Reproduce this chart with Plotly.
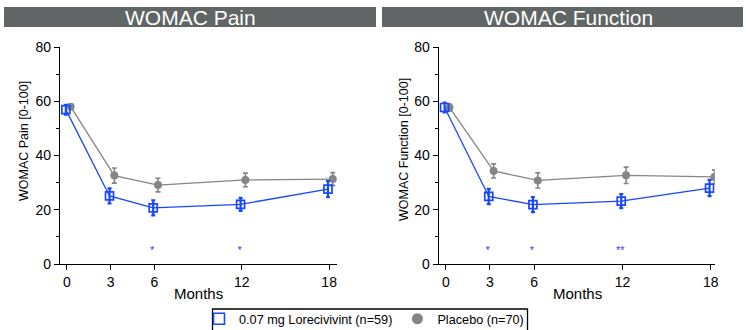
import plotly.graph_objects as go

months = [0, 3, 6, 12, 18]
pain_lore = [56.9, 25.1, 20.7, 22.0, 27.6]
pain_lore_err = [1.8, 2.8, 2.8, 2.4, 3.0]
pain_plac = [58.0, 32.6, 29.1, 31.0, 31.3]
pain_plac_err = [0.8, 2.8, 2.5, 2.5, 2.4]
func_lore = [57.7, 24.9, 21.9, 23.2, 28.0]
func_lore_err = [1.8, 2.8, 2.8, 2.6, 3.0]
func_plac = [57.7, 34.3, 30.8, 32.7, 32.1]
func_plac_err = [1.3, 2.6, 2.8, 3.0, 2.6]
pain_sig = ["", "", "*", "*", ""]
func_sig = ["", "*", "*", "**", ""]
sig_level = 4.6
lore_offset = -0.08
plac_offset = 0.25

BLUE = "#1747ff"
GRAY = "#858585"
FONT = "Liberation Sans, Arial, sans-serif"

fig = go.Figure()

panels = [
    ("x", "y", pain_lore, pain_lore_err, pain_plac, pain_plac_err, pain_sig),
    ("x2", "y2", func_lore, func_lore_err, func_plac, func_plac_err, func_sig),
]
for xa, ya, lore, lerr, plac, perr, sig in panels:
    fig.add_trace(go.Scatter(
        x=[m + plac_offset for m in months], y=plac, xaxis=xa, yaxis=ya,
        mode="lines+markers", showlegend=False,
        line=dict(color=GRAY, width=1.3),
        marker=dict(symbol="circle", size=8, color=GRAY),
        error_y=dict(type="data", array=perr, color=GRAY, thickness=1.6, width=2.5),
    ))
    fig.add_trace(go.Scatter(
        x=[m + lore_offset for m in months], y=lore, xaxis=xa, yaxis=ya,
        mode="lines+markers", showlegend=False,
        line=dict(color=BLUE, width=1.3),
        marker=dict(symbol="square-open", size=8, color=BLUE, line=dict(width=1.7)),
        error_y=dict(type="data", array=lerr, color=BLUE, thickness=2.2, width=2),
    ))
    fig.add_trace(go.Scatter(
        x=[m - 0.15 for m in months], y=[sig_level] * len(months), xaxis=xa, yaxis=ya,
        mode="text", text=sig, showlegend=False, hoverinfo="skip",
        textfont=dict(color="#3a3aff", size=11, family=FONT),
    ))

# legend entries (markers only)
fig.add_trace(go.Scatter(x=[None], y=[None], mode="markers", name="0.07 mg Lorecivivint (n=59)",
                         marker=dict(symbol="square-open", size=11, color=BLUE, line=dict(width=1.6))))
fig.add_trace(go.Scatter(x=[None], y=[None], mode="markers", name="Placebo (n=70)",
                         marker=dict(symbol="circle", size=11, color=GRAY)))

W, H = 746, 330
yb, yt = 1 - 264 / H, 1 - 47 / H

axis_common = dict(showline=True, linecolor="black", linewidth=1.3, ticks="outside",
                   tickcolor="black", showgrid=False, zeroline=False,
                   tickfont=dict(family=FONT, size=14, color="black"))

fig.update_layout(
    width=W, height=H, margin=dict(l=0, r=0, t=0, b=0, autoexpand=False),
    paper_bgcolor="white", plot_bgcolor="white",
    font=dict(family=FONT, color="black"),
    xaxis=dict(domain=[60 / W, 337 / W], range=[-0.48, 18.54], tickvals=months,
               anchor="y", ticklen=5, **axis_common),
    yaxis=dict(domain=[yb, yt], range=[0, 80], dtick=20, anchor="x", ticklen=5,
               minor=dict(dtick=10, ticklen=3, tickcolor="black", ticks="outside"),
               **axis_common),
    xaxis2=dict(domain=[438.7 / W, 714.7 / W], range=[-0.48, 18.27], tickvals=months,
                anchor="y2", ticklen=5, **axis_common),
    yaxis2=dict(domain=[yb, yt], range=[0, 80], dtick=20, anchor="x2", ticklen=5,
                minor=dict(dtick=10, ticklen=3, tickcolor="black", ticks="outside"),
                **axis_common),
    legend=dict(orientation="h", x=199 / W, y=1 - 304 / H, xanchor="left", yanchor="top",
                borderwidth=0, bgcolor="rgba(0,0,0,0)",
                font=dict(family=FONT, size=12.7, color="black"),
                itemwidth=30, tracegroupgap=0),
    showlegend=True,
)

HEAD = "#5f6665"
fig.add_shape(type="rect", xref="paper", yref="paper", x0=4 / W, x1=376 / W,
              y0=1 - 27 / H, y1=1 - 7 / H, fillcolor=HEAD, line=dict(width=0))
fig.add_shape(type="rect", xref="paper", yref="paper", x0=382 / W, x1=743 / W,
              y0=1 - 27 / H, y1=1 - 7 / H, fillcolor=HEAD, line=dict(width=0))
fig.add_shape(type="rect", xref="paper", yref="paper", x0=212.5 / W, x1=527.5 / W,
              y0=-0.02, y1=1 - 309 / H, fillcolor="rgba(0,0,0,0)",
              line=dict(color="black", width=1.3), layer="below")

annots = [
    dict(text="WOMAC Pain", x=190 / W, y=1 - 17 / H, size=21, color="white", angle=0),
    dict(text="WOMAC Function", x=568 / W, y=1 - 17 / H, size=21, color="white", angle=0),
    dict(text="Months", x=198 / W, y=1 - 293 / H, size=15, color="black", angle=0),
    dict(text="Months", x=577 / W, y=1 - 293 / H, size=15, color="black", angle=0),
    dict(text="WOMAC Pain [0-100]", x=24 / W, y=1 - 141 / H, size=12.5, color="black", angle=-90),
    dict(text="WOMAC Function [0-100]", x=404 / W, y=1 - 150 / H, size=12.5, color="black", angle=-90),
]
for a in annots:
    fig.add_annotation(text=a["text"], x=a["x"], y=a["y"], xref="paper", yref="paper",
                       showarrow=False, textangle=a["angle"], xanchor="center", yanchor="middle",
                       font=dict(family=FONT, size=a["size"], color=a["color"]))

fig.write_html("out.html", config={"displayModeBar": False},
               post_script="document.body.style.margin='0';")
